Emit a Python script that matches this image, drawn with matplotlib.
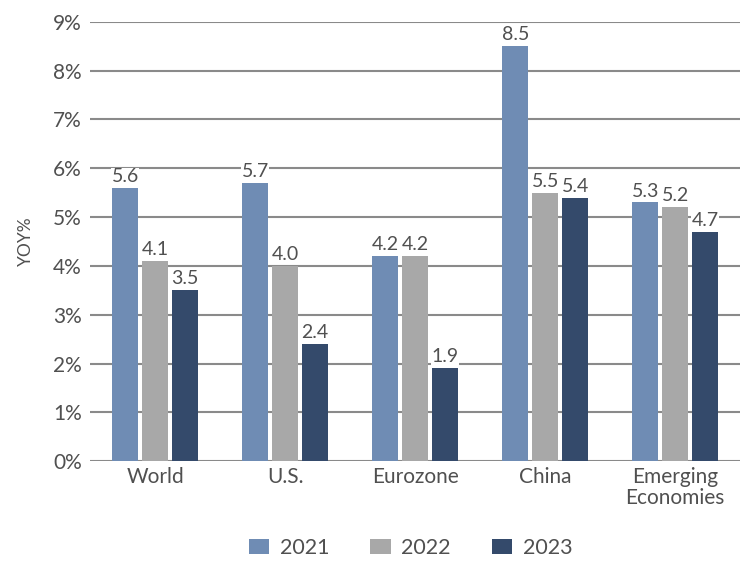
import matplotlib
matplotlib.use("Agg")
import matplotlib.pyplot as plt
import numpy as np

categories = ["World", "U.S.", "Eurozone", "China", "Emerging\nEconomies"]
years = ["2021", "2022", "2023"]
values_2021 = [5.6, 5.7, 4.2, 8.5, 5.3]
values_2022 = [4.1, 4.0, 4.2, 5.5, 5.2]
values_2023 = [3.5, 2.4, 1.9, 5.4, 4.7]
yticks = [0, 1, 2, 3, 4, 5, 6, 7, 8, 9]

colors = ["#6f8cb4", "#a8a8a8", "#344a6b"]
text_color = "#505050"

plt.rcParams["font.family"] = ["Lato", "DejaVu Sans"]

fig = plt.figure(figsize=(7.44, 5.61), dpi=100)
ax = fig.add_axes([0.121, 0.178, 0.874, 0.783])

x = np.arange(len(categories))
width = 0.2
offset = 0.23
series = [values_2021, values_2022, values_2023]

for i, (vals, col, yr) in enumerate(zip(series, colors, years)):
    pos = x + (i - 1) * offset
    ax.bar(pos, vals, width, color=col, label=yr, zorder=3)
    for xp, v in zip(pos, vals):
        ax.text(xp, v + 0.06, f"{v:.1f}", ha="center", va="bottom",
                fontsize=14, color=text_color, zorder=4,
                bbox=dict(facecolor="white", edgecolor="none", pad=0.3))

ax.set_xlim(-0.5, len(categories) - 0.5)
ax.set_ylim(0, 9)
ax.set_yticks(yticks)
ax.set_yticklabels([f"{t}%" for t in yticks])
ax.set_xticks(x)
ax.set_xticklabels(categories, linespacing=1.1)
ax.grid(axis="y", color="#8a8a8a", linewidth=1.5, zorder=0)
ax.tick_params(axis="both", length=0, labelsize=15, colors=text_color)
ax.tick_params(axis="y", pad=6)
ax.tick_params(axis="x", pad=4)
for s in ax.spines.values():
    s.set_visible(False)
ax.set_ylabel("YOY%", fontsize=12.5, color=text_color, labelpad=14)

fig.legend(loc="center", bbox_to_anchor=(0.552, 0.023), ncol=3, frameon=False,
           fontsize=15.5, handlelength=0.95, handleheight=0.7, columnspacing=1.9,
           handletextpad=0.5, labelcolor=text_color)

fig.savefig("out.png", dpi=100)
